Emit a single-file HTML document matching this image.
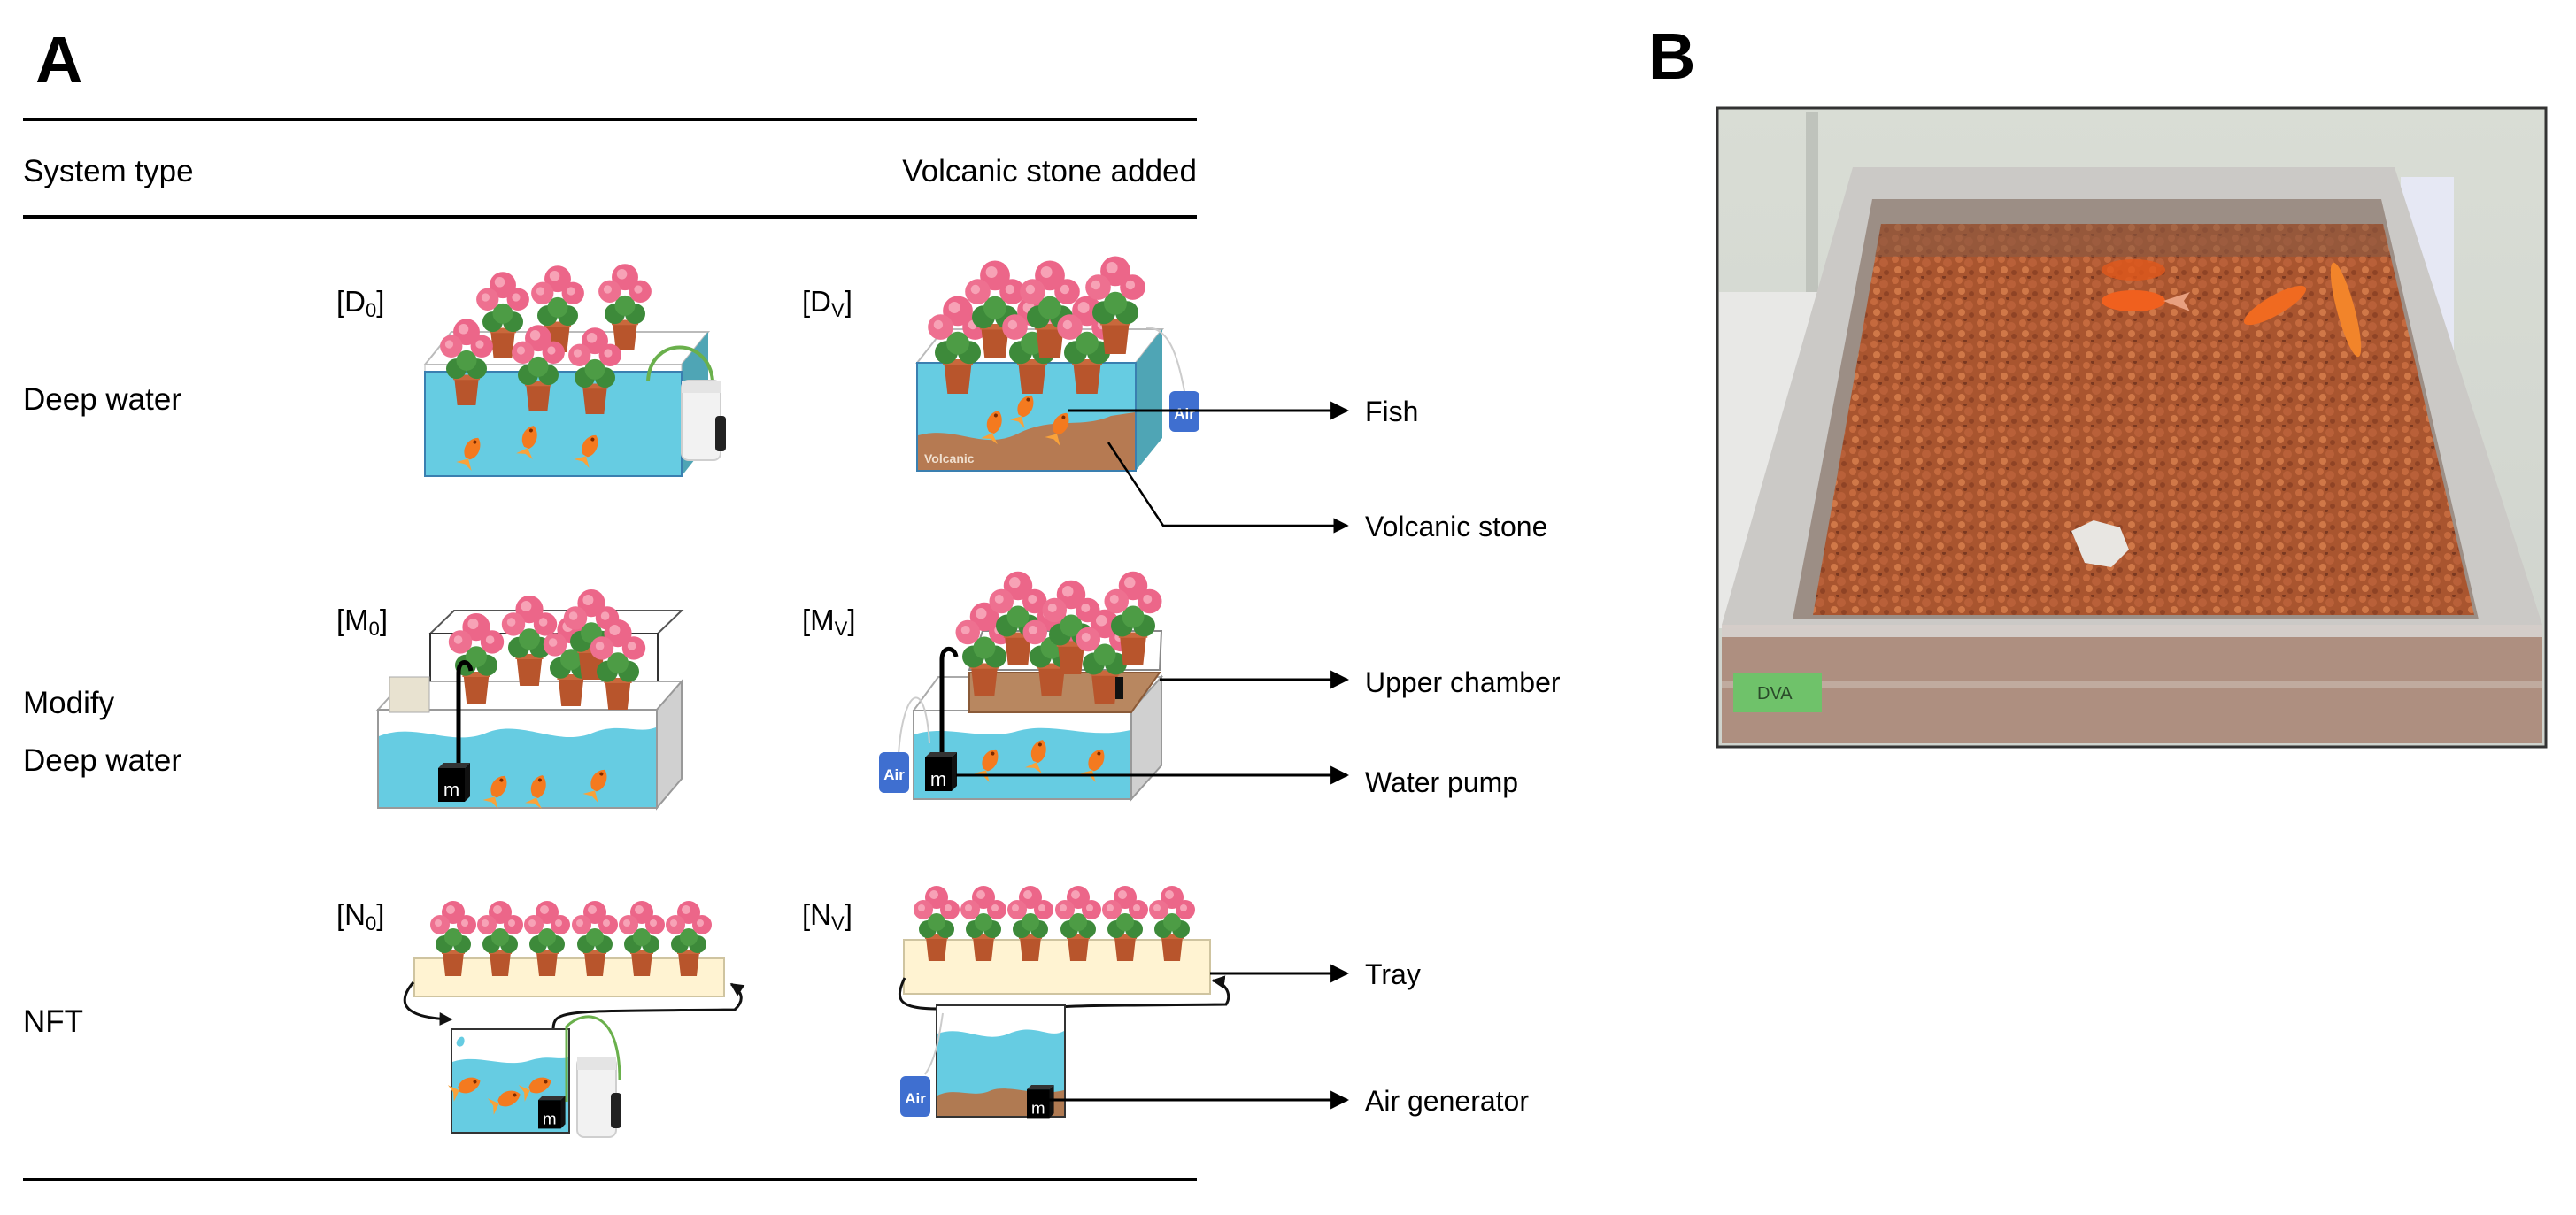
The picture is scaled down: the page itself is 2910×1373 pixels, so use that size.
<!DOCTYPE html>
<html><head><meta charset="utf-8"><style>
html,body{margin:0;padding:0;background:#fff;}
svg{display:block;}
text{font-family:"Liberation Sans",sans-serif;}
</style></head><body>
<svg width="2910" height="1373" viewBox="0 0 2910 1373" xmlns="http://www.w3.org/2000/svg">
<defs>
<g id="plant">
<polygon points="-12,-27 12,-27 9,0 -9,0" fill="#b8552c"/>
<rect x="-13" y="-30" width="26" height="5" fill="#c9683c"/>
<circle cx="-10" cy="-36" r="10" fill="#3d8a3a"/>
<circle cx="10" cy="-36" r="10" fill="#3d8a3a"/>
<circle cx="0" cy="-44" r="10" fill="#4d9c45"/>
<circle cx="0" cy="-72" r="13" fill="#ec6689"/>
<circle cx="-15" cy="-58" r="11" fill="#ee7090"/>
<circle cx="15" cy="-58" r="11" fill="#ec6689"/>
<circle cx="-3" cy="-75" r="5" fill="#f7a2b6"/>
<circle cx="-17" cy="-60" r="4" fill="#f7a2b6"/>
<circle cx="13" cy="-60" r="4" fill="#f7a2b6"/>
</g>
<g id="fish">
<path d="M-12,-4 C-4,-14 10,-10 14,-2 C10,6 -4,10 -12,2 Z" fill="#f47a1f"/>
<path d="M-12,0 L-22,-10 L-19,0 L-22,10 Z" fill="#f9a23a"/>
<circle cx="8" cy="-3" r="2" fill="#7a2a00"/>
</g>
<g id="mbox">
<polygon points="0,6 6,0 36,0 30,6" fill="#333"/>
<polygon points="30,6 36,0 36,38 30,44" fill="#111"/>
<rect x="0" y="6" width="30" height="38" fill="#000"/>
<text x="15" y="38" font-size="22" fill="#fff" text-anchor="middle">m</text>
</g>
<g id="air">
<rect x="0" y="0" width="34" height="46" rx="6" fill="#3f6fd0"/>
<text x="17" y="31" font-size="17" font-weight="bold" fill="#fff" text-anchor="middle">Air</text>
</g>
<g id="filter">
<rect x="0" y="0" width="44" height="90" rx="8" fill="#f2f2f2" stroke="#cfcfcf" stroke-width="2"/>
<rect x="0" y="0" width="44" height="14" fill="#e4e4e4"/>
<rect x="38" y="40" width="12" height="40" rx="4" fill="#222"/>
</g>
<marker id="ah" viewBox="0 0 10 10" refX="9" refY="5" markerWidth="7" markerHeight="7" orient="auto"><path d="M0,0 L10,5 L0,10 Z" fill="#000"/></marker>
<marker id="ah2" viewBox="0 0 10 10" refX="9" refY="5" markerWidth="5" markerHeight="5" orient="auto"><path d="M0,0 L10,5 L0,10 Z" fill="#111"/></marker>
<pattern id="grav" width="24" height="24" patternUnits="userSpaceOnUse">
<rect width="24" height="24" fill="#a9552f"/>
<circle cx="5" cy="5" r="4" fill="#c56a3e"/>
<circle cx="16" cy="9" r="5" fill="#b96039"/>
<circle cx="8" cy="17" r="4" fill="#d07848"/>
<circle cx="19" cy="20" r="3" fill="#8f4325"/>
<circle cx="12" cy="1" r="2" fill="#7a3820"/>
</pattern>
<linearGradient id="bg" x1="0" y1="0" x2="0" y2="1"><stop offset="0" stop-color="#d9ddd5"/><stop offset="1" stop-color="#cfd3cd"/></linearGradient>
</defs>

<text x="40" y="93" font-size="74" font-weight="bold">A</text>
<text x="1862" y="89" font-size="74" font-weight="bold">B</text>
<rect x="26" y="133" width="1326" height="4" fill="#000"/>
<rect x="26" y="243" width="1326" height="4" fill="#000"/>
<rect x="26" y="1331" width="1326" height="4" fill="#000"/>
<text x="26" y="205" font-size="35">System type</text>
<text x="1352" y="205" font-size="35" text-anchor="end">Volcanic stone added</text>
<text x="26" y="463" font-size="35">Deep water</text>
<text x="26" y="806" font-size="35">Modify</text>
<text x="26" y="871" font-size="35">Deep water</text>
<text x="26" y="1166" font-size="35">NFT</text>

<g font-size="33">
<text x="380" y="352">[D<tspan font-size="22" dy="6">0</tspan><tspan dy="-6">]</tspan></text>
<text x="906" y="352">[D<tspan font-size="22" dy="6">V</tspan><tspan dy="-6">]</tspan></text>
<text x="380" y="712">[M<tspan font-size="22" dy="6">0</tspan><tspan dy="-6">]</tspan></text>
<text x="906" y="712">[M<tspan font-size="22" dy="6">V</tspan><tspan dy="-6">]</tspan></text>
<text x="380" y="1045">[N<tspan font-size="22" dy="6">0</tspan><tspan dy="-6">]</tspan></text>
<text x="906" y="1045">[N<tspan font-size="22" dy="6">V</tspan><tspan dy="-6">]</tspan></text>
</g>

<!-- D0 -->
<polygon points="480,412 510,375 800,375 770,412" fill="#fff" stroke="#bbb" stroke-width="2"/>
<polygon points="770,412 800,375 800,500 770,538" fill="#4fa5b5"/>
<rect x="480" y="412" width="290" height="8" fill="#fff" stroke="#bbb" stroke-width="1"/>
<rect x="480" y="420" width="290" height="118" fill="#66cce2" stroke="#3a7fb0" stroke-width="2"/>
<g transform="translate(568,405) scale(1.15)"><use href="#plant"/></g>
<g transform="translate(630,398) scale(1.15)"><use href="#plant"/></g>
<g transform="translate(706,396) scale(1.15)"><use href="#plant"/></g>
<g transform="translate(527,458) scale(1.15)"><use href="#plant"/></g>
<g transform="translate(608,465) scale(1.15)"><use href="#plant"/></g>
<g transform="translate(672,468) scale(1.15)"><use href="#plant"/></g>
<use href="#fish" transform="translate(535,508) rotate(-60)"/>
<use href="#fish" transform="translate(600,495) rotate(-70)"/>
<use href="#fish" transform="translate(668,505) rotate(-60)"/>
<path d="M732,430 C735,380 800,380 805,430 L805,470" stroke="#6ab04c" stroke-width="4" fill="none"/>
<use href="#filter" transform="translate(770,430)"/>

<!-- Dv -->
<polygon points="1036,410 1066,372 1313,372 1283,410" fill="#fff" stroke="#bbb" stroke-width="2"/>
<polygon points="1283,410 1313,372 1313,495 1283,532" fill="#4fa5b5"/>
<rect x="1036" y="410" width="247" height="122" fill="#66cce2" stroke="#3a7fb0" stroke-width="2"/>
<path d="M1037,492 C1080,480 1110,510 1150,490 C1190,470 1220,485 1255,470 L1282,466 L1282,531 L1037,531 Z" fill="#b67a52"/>
<text x="1044" y="523" font-size="14" font-weight="bold" fill="#f0e0d0">Volcanic</text>
<g transform="translate(1082,445) scale(1.3)"><use href="#plant"/></g>
<g transform="translate(1124,405) scale(1.3)"><use href="#plant"/></g>
<g transform="translate(1166,445) scale(1.3)"><use href="#plant"/></g>
<g transform="translate(1186,405) scale(1.3)"><use href="#plant"/></g>
<g transform="translate(1228,445) scale(1.3)"><use href="#plant"/></g>
<g transform="translate(1260,400) scale(1.3)"><use href="#plant"/></g>
<use href="#fish" transform="translate(1160,460) rotate(-60)"/>
<use href="#fish" transform="translate(1125,478) rotate(-70)"/>
<use href="#fish" transform="translate(1200,480) rotate(-60)"/>
<path d="M1295,370 C1320,370 1330,400 1338,442" stroke="#ccc" stroke-width="2" fill="none"/>
<use href="#air" transform="translate(1321,442)"/>
<line x1="1206" y1="464" x2="1522" y2="464" stroke="#000" stroke-width="3" marker-end="url(#ah)"/>
<polyline points="1252,500 1314,594 1522,594" stroke="#000" stroke-width="2.5" fill="none" marker-end="url(#ah)"/>
<text x="1542" y="476" font-size="32">Fish</text>
<text x="1542" y="606" font-size="32">Volcanic stone</text>

<!-- M0 -->
<polygon points="486,716 513,690 770,690 743,716" fill="#fff" stroke="#555" stroke-width="2"/>
<rect x="486" y="716" width="257" height="85" fill="#fff" stroke="#333" stroke-width="2"/>
<polygon points="427,802 456,770 770,770 742,802" fill="#fff" stroke="#aaa" stroke-width="2"/>
<polygon points="742,802 770,770 770,880 742,913" fill="#d0d0d0" stroke="#999" stroke-width="2"/>
<rect x="427" y="802" width="315" height="111" fill="#fff" stroke="#999" stroke-width="2"/>
<path d="M428,832 C470,815 510,845 550,828 C590,812 630,845 670,828 C700,816 720,830 741,822 L741,912 L428,912 Z" fill="#66cce2"/>
<rect x="440" y="765" width="45" height="40" fill="#e8e2d0" stroke="#aaa"/>
<g transform="translate(538,795) scale(1.2)"><use href="#plant"/></g>
<g transform="translate(598,775) scale(1.2)"><use href="#plant"/></g>
<g transform="translate(645,798) scale(1.2)"><use href="#plant"/></g>
<g transform="translate(668,768) scale(1.2)"><use href="#plant"/></g>
<g transform="translate(698,802) scale(1.2)"><use href="#plant"/></g>
<path d="M518,870 L518,760 C518,745 530,745 532,758" stroke="#000" stroke-width="5" fill="none"/>
<use href="#mbox" transform="translate(495,862)"/>
<use href="#fish" transform="translate(565,890) rotate(-60)"/>
<use href="#fish" transform="translate(610,890) rotate(-70)"/>
<use href="#fish" transform="translate(678,883) rotate(-60)"/>

<!-- Mv -->
<polygon points="1095,757 1110,713 1312,713 1310,757" fill="#fff" stroke="#888" stroke-width="2"/>
<polygon points="1032,803 1060,765 1312,765 1278,803" fill="#fff" stroke="#aaa" stroke-width="2"/>
<polygon points="1278,803 1312,765 1312,865 1278,903" fill="#d0d0d0" stroke="#999" stroke-width="2"/>
<rect x="1032" y="803" width="246" height="100" fill="#fff" stroke="#999" stroke-width="2"/>
<path d="M1033,830 C1070,818 1110,838 1150,826 C1190,815 1230,836 1277,825 L1277,902 L1033,902 Z" fill="#66cce2"/>
<polygon points="1095,805 1278,805 1310,760 1095,760" fill="#b88760" stroke="#8a5a38" stroke-width="2"/>
<g transform="translate(1112,787) scale(1.25)"><use href="#plant"/></g>
<g transform="translate(1150,752) scale(1.25)"><use href="#plant"/></g>
<g transform="translate(1188,787) scale(1.25)"><use href="#plant"/></g>
<g transform="translate(1210,762) scale(1.25)"><use href="#plant"/></g>
<g transform="translate(1248,795) scale(1.25)"><use href="#plant"/></g>
<g transform="translate(1280,752) scale(1.25)"><use href="#plant"/></g>
<rect x="1260" y="765" width="9" height="25" fill="#111"/>
<path d="M1064,855 L1064,745 C1064,730 1078,730 1080,742" stroke="#000" stroke-width="5" fill="none"/>
<path d="M1015,852 C1020,780 1045,760 1050,840" stroke="#ccc" stroke-width="2" fill="none"/>
<use href="#air" transform="translate(993,850)"/>
<use href="#mbox" transform="translate(1045,850)"/>
<use href="#fish" transform="translate(1120,860) rotate(-60)"/>
<use href="#fish" transform="translate(1175,850) rotate(-70)"/>
<use href="#fish" transform="translate(1240,860) rotate(-60)"/>
<line x1="1310" y1="768" x2="1522" y2="768" stroke="#000" stroke-width="3" marker-end="url(#ah)"/>
<line x1="1080" y1="876" x2="1522" y2="876" stroke="#000" stroke-width="3" marker-end="url(#ah)"/>
<text x="1542" y="782" font-size="32">Upper chamber</text>
<text x="1542" y="895" font-size="32">Water pump</text>

<!-- N0 -->
<rect x="468" y="1083" width="350" height="43" fill="#fff3d2" stroke="#cfc4a0" stroke-width="2"/>
<g transform="translate(512,1103)"><use href="#plant"/></g>
<g transform="translate(565,1103)"><use href="#plant"/></g>
<g transform="translate(618,1103)"><use href="#plant"/></g>
<g transform="translate(672,1103)"><use href="#plant"/></g>
<g transform="translate(725,1103)"><use href="#plant"/></g>
<g transform="translate(778,1103)"><use href="#plant"/></g>
<path d="M467,1110 C450,1130 450,1150 510,1152" stroke="#111" stroke-width="3" fill="none" marker-end="url(#ah2)"/>
<path d="M625,1163 C625,1140 640,1143 830,1141 C842,1130 838,1120 826,1112" stroke="#111" stroke-width="3" fill="none" marker-end="url(#ah2)"/>
<rect x="510" y="1163" width="133" height="117" fill="#fff" stroke="#333" stroke-width="2"/>
<path d="M511,1200 C540,1190 570,1208 600,1198 C620,1192 630,1198 642,1195 L642,1279 L511,1279 Z" fill="#66cce2"/>
<path d="M517,1175 c6,-8 10,0 6,6 c-4,4 -10,0 -6,-6 Z" fill="#66cce2"/>
<use href="#fish" transform="translate(530,1228) rotate(-20)"/>
<use href="#fish" transform="translate(575,1243) rotate(-20)"/>
<use href="#fish" transform="translate(610,1228) rotate(-20)"/>
<use href="#mbox" transform="translate(608,1238) scale(0.85)"/>
<path d="M640,1245 L640,1160 C660,1140 700,1140 700,1220" stroke="#6ab04c" stroke-width="3" fill="none"/>
<use href="#filter" transform="translate(652,1195)"/>

<!-- Nv -->
<rect x="1021" y="1062" width="346" height="61" fill="#fff3d2" stroke="#cfc4a0" stroke-width="2"/>
<g transform="translate(1058,1086)"><use href="#plant"/></g>
<g transform="translate(1111,1086)"><use href="#plant"/></g>
<g transform="translate(1164,1086)"><use href="#plant"/></g>
<g transform="translate(1218,1086)"><use href="#plant"/></g>
<g transform="translate(1271,1086)"><use href="#plant"/></g>
<g transform="translate(1324,1086)"><use href="#plant"/></g>
<path d="M1022,1105 C1010,1130 1015,1140 1060,1140" stroke="#111" stroke-width="3" fill="none"/>
<path d="M1170,1250 L1170,1150 C1170,1135 1180,1137 1385,1135 C1392,1125 1385,1110 1370,1108" stroke="#111" stroke-width="3" fill="none" marker-end="url(#ah2)"/>
<rect x="1058" y="1136" width="145" height="126" fill="#fff" stroke="#333" stroke-width="2"/>
<path d="M1059,1168 C1090,1158 1110,1180 1140,1168 C1170,1155 1185,1175 1202,1165 L1202,1261 L1059,1261 Z" fill="#66cce2"/>
<path d="M1059,1238 C1080,1228 1100,1242 1120,1232 C1140,1225 1170,1240 1202,1232 L1202,1261 L1059,1261 Z" fill="#b07a52"/>
<path d="M1065,1145 C1060,1180 1055,1200 1045,1214" stroke="#ccc" stroke-width="2" fill="none"/>
<use href="#air" transform="translate(1017,1216)"/>
<use href="#mbox" transform="translate(1160,1226) scale(0.85)"/>
<line x1="1367" y1="1100" x2="1522" y2="1100" stroke="#000" stroke-width="3" marker-end="url(#ah)"/>
<line x1="1185" y1="1243" x2="1522" y2="1243" stroke="#000" stroke-width="3" marker-end="url(#ah)"/>
<text x="1542" y="1112" font-size="32">Tray</text>
<text x="1542" y="1255" font-size="32">Air generator</text>

<!-- Photo B -->
<rect x="1940" y="122" width="936" height="722" fill="url(#bg)" stroke="#333" stroke-width="3"/>
<rect x="2040" y="126" width="14" height="300" fill="#bfc3bc"/>
<rect x="1942" y="330" width="150" height="380" fill="#e8e8e6"/>
<rect x="2712" y="200" width="60" height="320" fill="#e6e8f4"/>
<polygon points="2093,189 2705,189 2872,706 1945,706" fill="#cbc9c6"/>
<polygon points="2115,225 2690,225 2800,700 2025,700" fill="#9c8e85"/>
<polygon points="2125,253 2692,253 2795,695 2048,695" fill="url(#grav)"/>
<polygon points="2125,253 2692,253 2700,290 2118,290" fill="#8a5a45" opacity="0.6"/>
<path d="M2340,600 l25,-12 l30,8 l10,25 l-20,20 l-30,-5 Z" fill="#e8e6e2"/>
<ellipse cx="2410" cy="340" rx="36" ry="12" fill="#f0601e"/>
<path d="M2444,340 l30,-10 l-7,10 l7,12 Z" fill="#e8a080"/>
<ellipse cx="2410" cy="305" rx="36" ry="12" fill="#e0581c" opacity="0.8"/>
<ellipse cx="2570" cy="345" rx="40" ry="11" fill="#f06a20" transform="rotate(-30 2570 345)"/>
<ellipse cx="2650" cy="350" rx="10" ry="55" fill="#f2842a" transform="rotate(-15 2650 350)"/>
<polygon points="1945,706 2872,706 2872,840 1945,840" fill="#a88272" opacity="0.85"/>
<rect x="1945" y="706" width="927" height="14" fill="#d8d4d0" opacity="0.9"/>
<rect x="1945" y="770" width="927" height="8" fill="#c7b6ac" opacity="0.7"/>
<rect x="1958" y="760" width="100" height="45" fill="#6fc26a"/>
<text x="1985" y="790" font-size="20" fill="#2a4a2a">DVA</text>
</svg>
</body></html>
